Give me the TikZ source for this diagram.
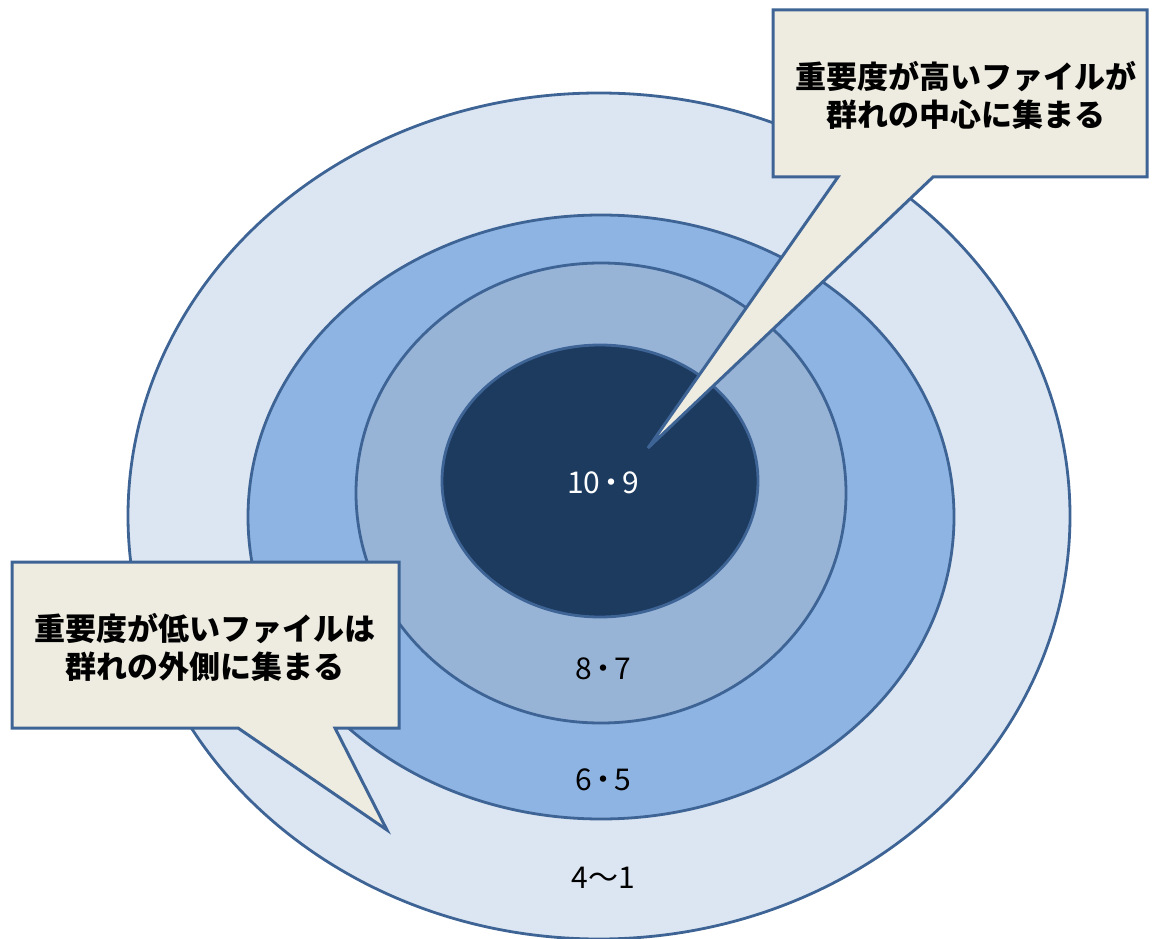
\documentclass[tikz,border=0pt]{standalone}
\usepackage{fontspec}
\newfontfamily\jp{Noto Sans CJK JP}
\definecolor{edge}{RGB}{62,100,150}
\definecolor{ringA}{RGB}{220,230,242}
\definecolor{ringB}{RGB}{142,180,227}
\definecolor{ringC}{RGB}{151,180,215}
\definecolor{ringD}{RGB}{29,58,95}
\definecolor{callfill}{RGB}{238,236,225}
\newcommand{\mdot}{\kern-4pt・\kern-4pt}
\begin{document}
\begin{tikzpicture}[x=1pt,y=-1pt,
  ring/.style={draw=edge, line width=2.8pt},
  callout/.style={draw=edge, fill=callfill, line width=3pt, line join=miter},
  lbl/.style={font=\jp\fontsize{30}{32}\selectfont, inner sep=0pt},
  ctext/.style={font=\jp\bfseries\fontsize{31}{38}\selectfont, align=center, inner sep=0pt}]
\useasboundingbox[fill=white] (0,0) rectangle (1160,939);
\begin{scope}
\clip (0,0) rectangle (1160,939);
\path[ring, fill=ringA] (599,516) ellipse [x radius=471pt, y radius=423pt];
\path[ring, fill=ringB] (601,517) ellipse [x radius=353pt, y radius=302pt];
\path[ring, fill=ringC] (601,493) ellipse [x radius=245pt, y radius=230pt];
\path[ring, fill=ringD] (600,481) ellipse [x radius=158pt, y radius=136pt];
\end{scope}
\node[lbl, text=white] (l109) at (603,483) {10\mdot 9};
\node[lbl] (l87) at (603,669) {8\mdot 7};
\node[lbl] (l65) at (603,780) {6\mdot 5};
\node[lbl] (l41) at (603,878) {4〜1};
\coordinate (tipA) at (648,448);
\coordinate (tipB) at (387,830);
\path[callout] (773,10) -- (1147,10) -- (1147,177) -- (933,177) -- (tipA) -- (838,177) -- (773,177) -- cycle;
\path[callout] (12,562) -- (399,562) -- (399,728) -- (335,728) -- (tipB) -- (238,728) -- (12,728) -- cycle;
\node[ctext] (tA) at (966,95) {重要度が高いファイルが\\群れの中心に集まる};
\node[ctext] (tB) at (205,647) {重要度が低いファイルは\\群れの外側に集まる};
\end{tikzpicture}
\end{document}
